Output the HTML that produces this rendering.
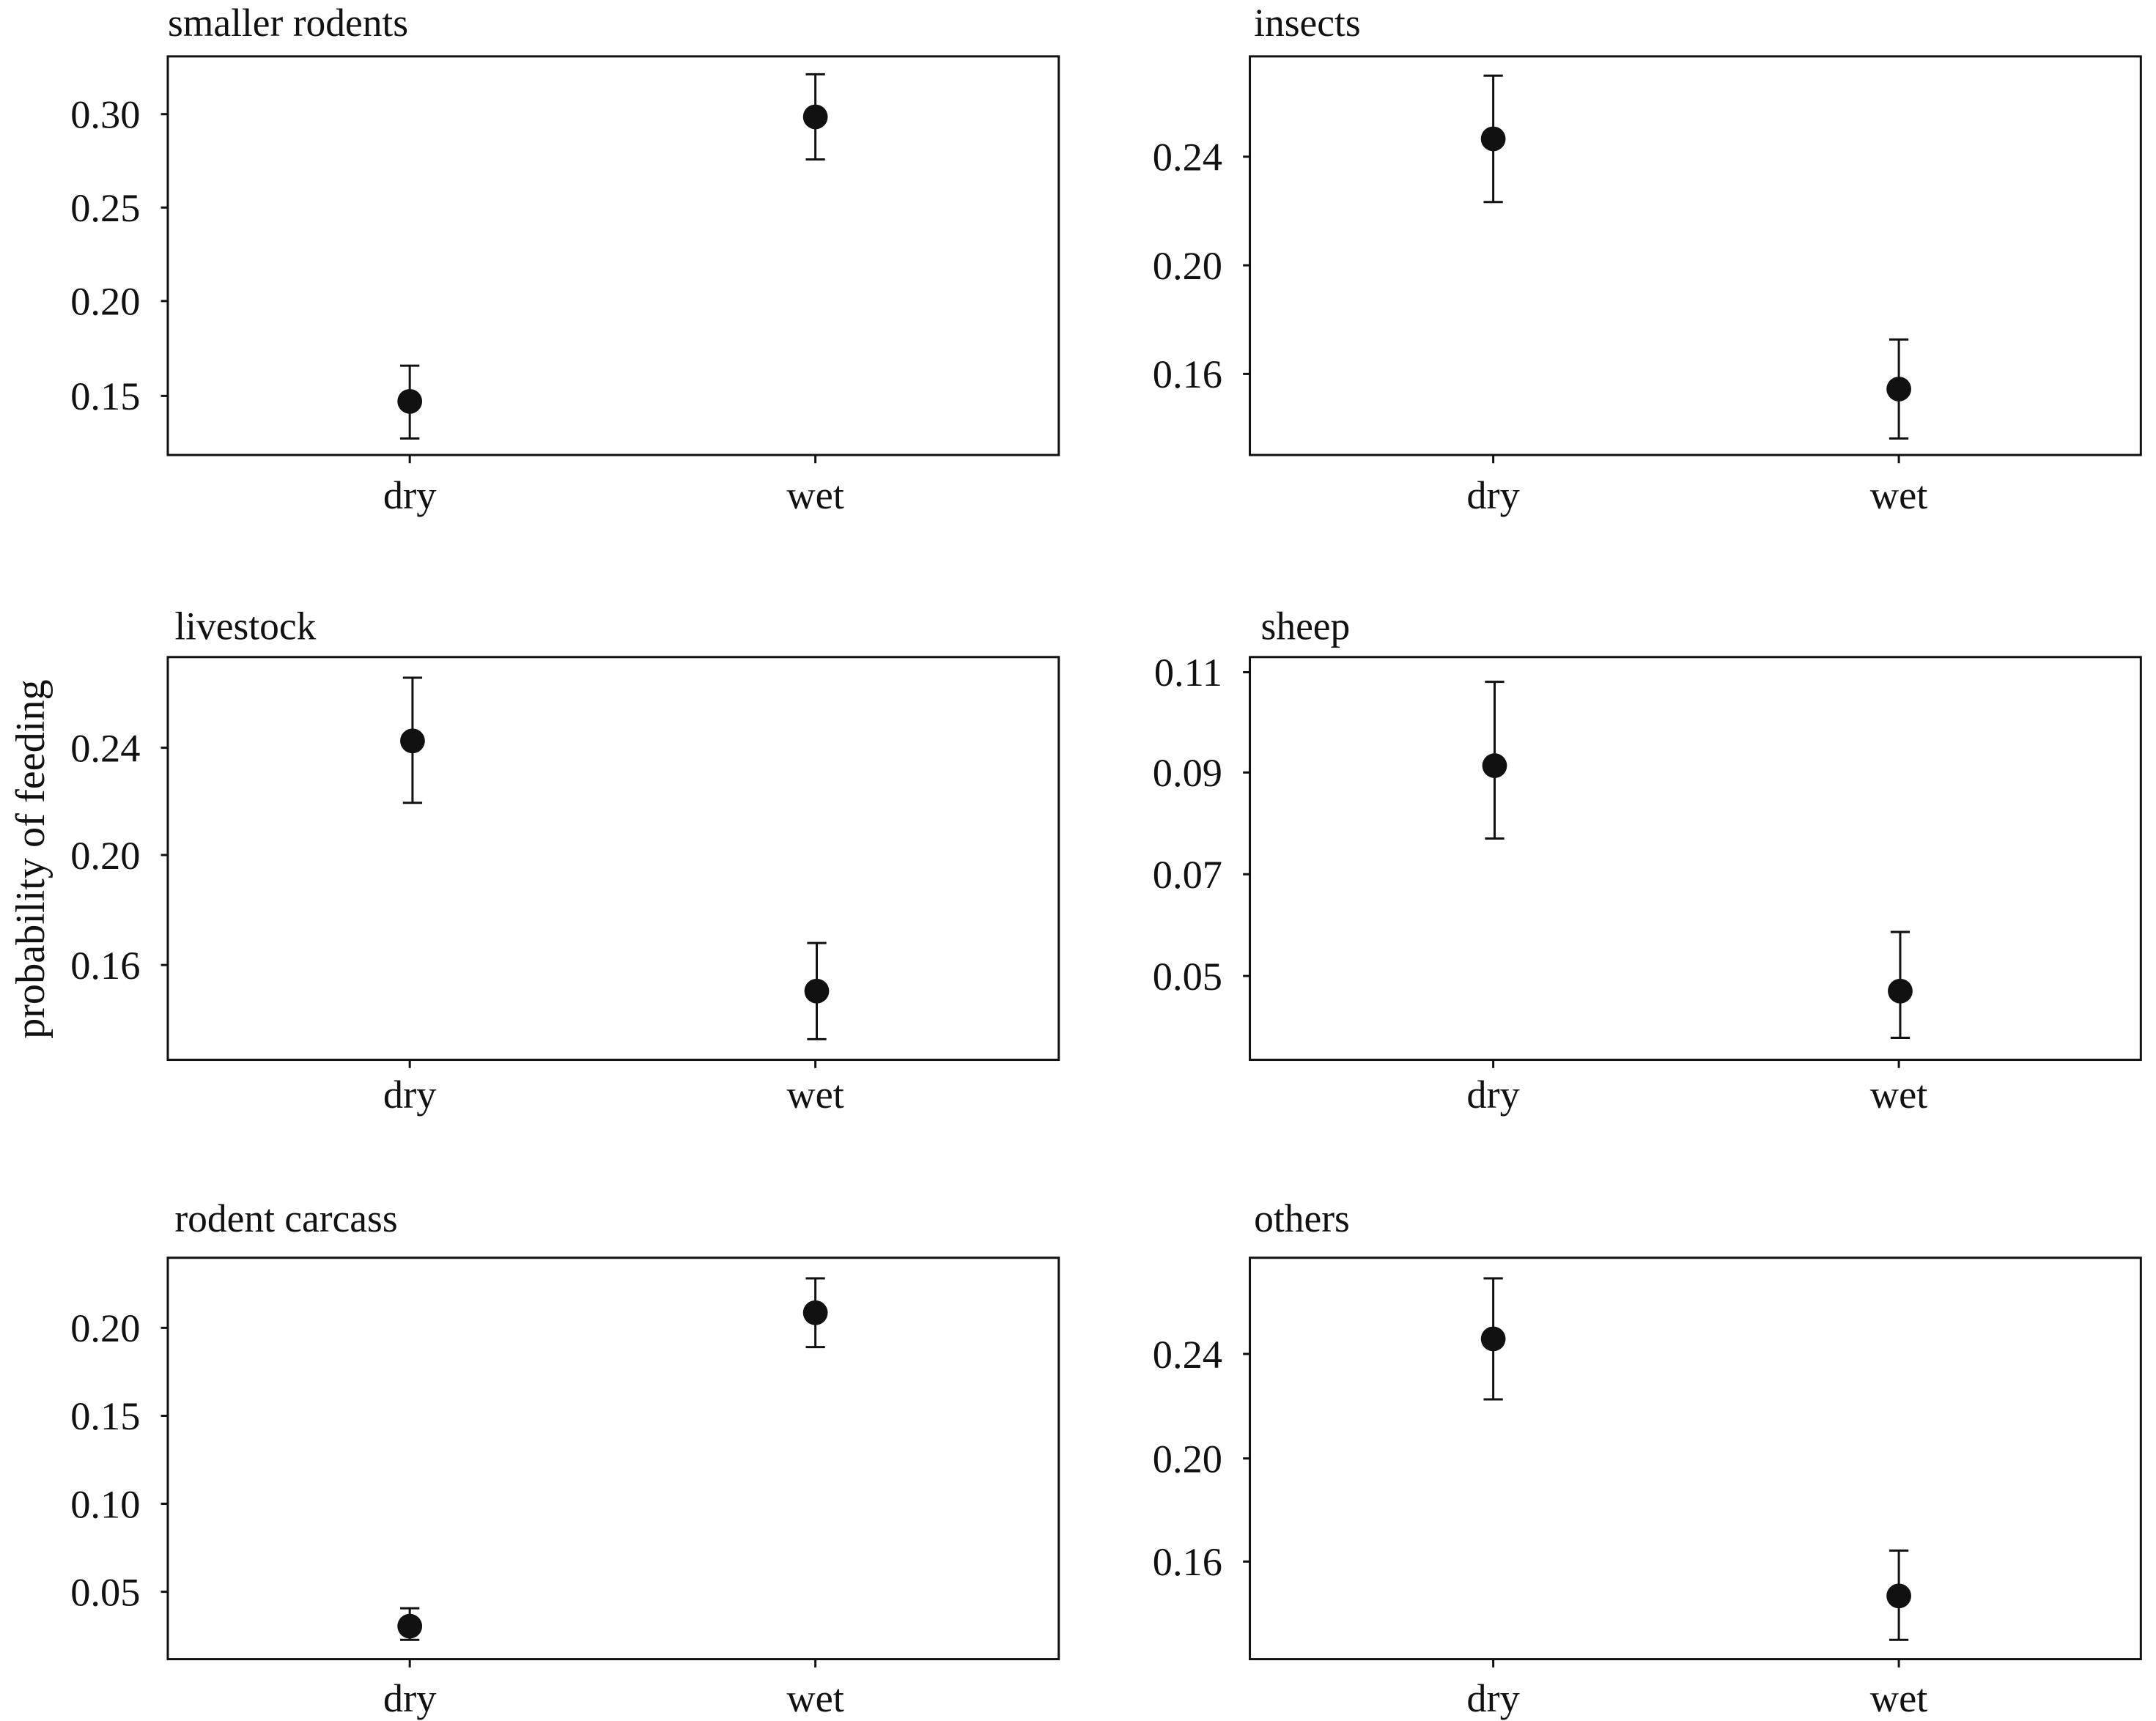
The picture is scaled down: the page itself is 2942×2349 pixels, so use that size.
<!DOCTYPE html>
<html><head><meta charset="utf-8"><style>
html,body{margin:0;padding:0;background:#fff;}
svg{display:block;}
text{font-family:"Liberation Serif",serif;fill:#111;}
</style></head><body>
<svg width="2942" height="2349" viewBox="0 0 1568 1252" xmlns="http://www.w3.org/2000/svg">
<rect width="1568" height="1252" fill="#fff"/>
<g stroke="#111" stroke-width="1.6" fill="none">
<rect x="122" y="41" width="648" height="290"/>
<rect x="909" y="41" width="648" height="290"/>
<rect x="122" y="478" width="648" height="293"/>
<rect x="909" y="478" width="648" height="293"/>
<rect x="122" y="915" width="648" height="292"/>
<rect x="909" y="915" width="648" height="292"/>
<path d="M298 331v6M593 331v6M1086 331v6M1381 331v6M298 771v6M593 771v6M1086 771v6M1381 771v6M298 1207v6M593 1207v6M1086 1207v6M1381 1207v6"/>
<path d="M117 83h5M117 151h5M117 219h5M117 288h5"/>
<path d="M904 114h5M904 193h5M904 272h5"/>
<path d="M117 544h5M117 622h5M117 702h5"/>
<path d="M904 489h5M904 562h5M904 636h5M904 710h5"/>
<path d="M117 966h5M117 1030h5M117 1094h5M117 1158h5"/>
<path d="M904 985h5M904 1061h5M904 1136h5"/>
<path d="M298 266v53M291 266h14M291 319h14"/>
<path d="M593 54v62M586 54h14M586 116h14"/>
<path d="M1086 55v92M1079 55h14M1079 147h14"/>
<path d="M1381 247v72M1374 247h14M1374 319h14"/>
<path d="M300 493v91M293 493h14M293 584h14"/>
<path d="M594 686v70M587 686h14M587 756h14"/>
<path d="M1087 496v114M1080 496h14M1080 610h14"/>
<path d="M1382 678v77M1375 678h14M1375 755h14"/>
<path d="M298 1170v23M291 1170h14M291 1193h14"/>
<path d="M593 930v50M586 930h14M586 980h14"/>
<path d="M1086 930v88M1079 930h14M1079 1018h14"/>
<path d="M1381 1128v65M1374 1128h14M1374 1193h14"/>
</g>
<g fill="#111">
<circle cx="298" cy="292" r="9"/><circle cx="593" cy="85" r="9"/>
<circle cx="1086" cy="101" r="9"/><circle cx="1381" cy="283" r="9"/>
<circle cx="300" cy="539" r="9"/><circle cx="594" cy="721" r="9"/>
<circle cx="1087" cy="557" r="9"/><circle cx="1382" cy="721" r="9"/>
<circle cx="298" cy="1183" r="9"/><circle cx="593" cy="955" r="9"/>
<circle cx="1086" cy="974" r="9"/><circle cx="1381" cy="1161" r="9"/>
</g>
<g font-size="28.5">
<text x="122" y="26">smaller rodents</text>
<text x="912" y="26">insects</text>
<text x="127" y="465">livestock</text>
<text x="917" y="465">sheep</text>
<text x="127" y="896">rodent carcass</text>
<text x="912" y="896">others</text>
</g>
<g font-size="29" text-anchor="middle">
<text x="298" y="370">dry</text><text x="593" y="370">wet</text>
<text x="1086" y="370">dry</text><text x="1381" y="370">wet</text>
<text x="298" y="806">dry</text><text x="593" y="806">wet</text>
<text x="1086" y="806">dry</text><text x="1381" y="806">wet</text>
<text x="298" y="1245">dry</text><text x="593" y="1245">wet</text>
<text x="1086" y="1245">dry</text><text x="1381" y="1245">wet</text>
</g>
<g font-size="29" text-anchor="end">
<text x="102" y="93">0.30</text><text x="102" y="161">0.25</text><text x="102" y="229">0.20</text><text x="102" y="298">0.15</text>
<text x="889" y="124">0.24</text><text x="889" y="203">0.20</text><text x="889" y="282">0.16</text>
<text x="102" y="554">0.24</text><text x="102" y="632">0.20</text><text x="102" y="712">0.16</text>
<text x="889" y="499">0.11</text><text x="889" y="572">0.09</text><text x="889" y="646">0.07</text><text x="889" y="720">0.05</text>
<text x="102" y="976">0.20</text><text x="102" y="1040">0.15</text><text x="102" y="1104">0.10</text><text x="102" y="1168">0.05</text>
<text x="889" y="995">0.24</text><text x="889" y="1071">0.20</text><text x="889" y="1146">0.16</text>
</g>
<text font-size="30" text-anchor="middle" transform="translate(32 625) rotate(-90)">probability of feeding</text>
</svg>
</body></html>
